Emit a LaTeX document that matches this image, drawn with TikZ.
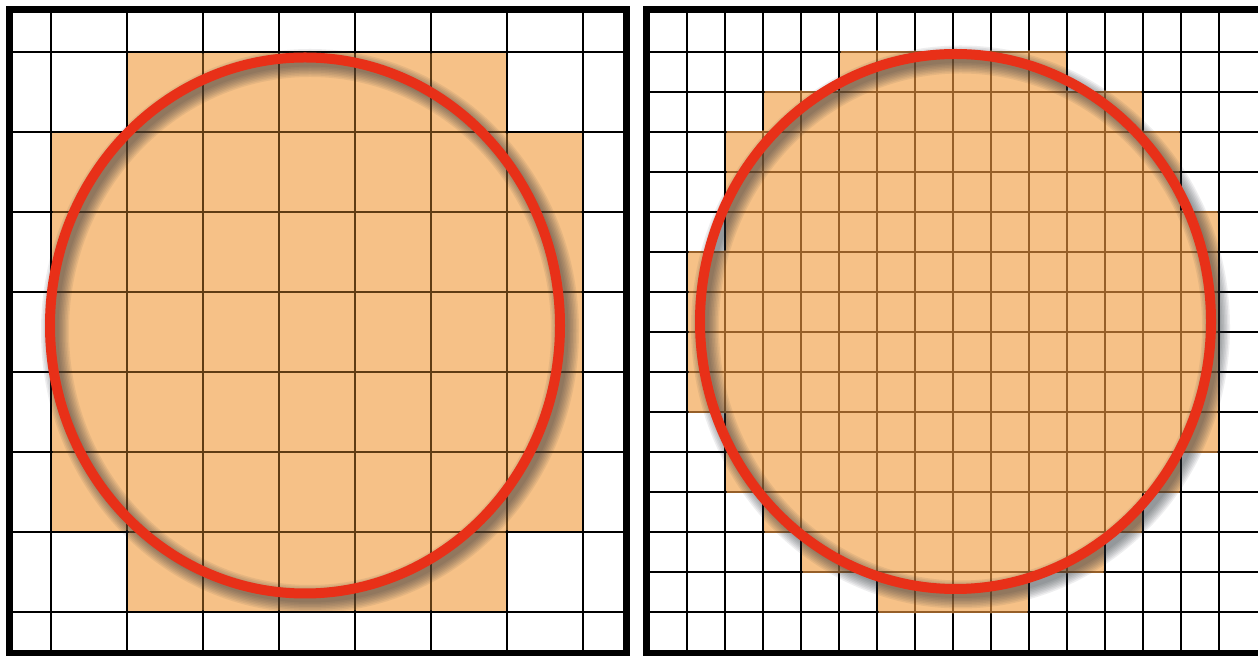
\documentclass[tikz,border=0pt]{standalone}
\definecolor{fillor}{RGB}{246,193,135}
\definecolor{ringred}{RGB}{232,48,24}
\definecolor{brownL}{RGB}{95,60,20}
\definecolor{brownR}{RGB}{150,95,40}
\definecolor{shadowcol}{RGB}{40,45,55}
\begin{document}
\begin{tikzpicture}[x=0.5pt,y=-0.5pt,
  gridline/.style={line width=1pt,black},
  framebox/.style={line width=3.5pt,black},
  ring/.style={line width=5pt,ringred},
  ringshadow/.style={line width=#1,shadowcol}]
\useasboundingbox (0,0) rectangle (1258,656);
\fill[white] (0,0) rectangle (1258,656);

% ---------------- left panel ----------------
\fill[fillor] (51,132) rectangle (583,532);
\fill[fillor] (127,52) rectangle (507,612);
\foreach \k in {0,...,7} {
  \draw[gridline] ({51+76*\k},12) -- ({51+76*\k},651);
  \draw[gridline] (13,{52+80*\k}) -- (623,{52+80*\k});
}
\begin{scope}
  \clip (52.5,133.5) rectangle (581.5,530.5) (128.5,53.5) rectangle (505.5,610.5);
  \foreach \k in {0,...,7} {
    \draw[brownL,line width=1pt] ({51+76*\k},12) -- ({51+76*\k},651);
    \draw[brownL,line width=1pt] (13,{52+80*\k}) -- (623,{52+80*\k});
  }
\end{scope}
\foreach \w in {14pt,12.5pt,11pt,9.5pt,8pt,6.5pt,5pt,3.5pt}
  \draw[ringshadow=\w, opacity=0.08] (310,331) ellipse [x radius=255, y radius=268];
\draw[ring] (305,325.5) ellipse [x radius=255, y radius=268];
\draw[framebox] (9.5,9.5) rectangle (626.5,653.5);

% ---------------- right panel ----------------
\foreach \r/\a/\b in {1/5/10, 2/3/12, 3/2/13, 4/2/13, 5/2/14, 6/1/14, 7/1/14,
                      8/1/14, 9/1/14, 10/2/14, 11/2/13, 12/3/12, 13/4/11, 14/6/9}
  \fill[fillor] ({649+38*\a},{12+40*\r}) rectangle ({649+38*(\b+1)},{52+40*\r});
\foreach \k in {1,...,15} {
  \draw[gridline] ({649+38*\k},12) -- ({649+38*\k},652);
  \draw[gridline] (650,{12+40*\k}) -- (1258,{12+40*\k});
}
\begin{scope}
  \clip \foreach \r/\a/\b in {1/5/10, 2/3/12, 3/2/13, 4/2/13, 5/2/14, 6/1/14, 7/1/14,
                      8/1/14, 9/1/14, 10/2/14, 11/2/13, 12/3/12, 13/4/11, 14/6/9}
    { ({649+38*\a+1.5},{12+40*\r+1.5}) rectangle ({649+38*(\b+1)-1.5},{52+40*\r-1.5})
      ({649+38*\a+1.5},{12+40*\r-1.5}) rectangle ({649+38*(\b+1)-1.5},{52+40*\r+1.5}) };
  \foreach \k in {1,...,15} {
    \draw[brownR,line width=0.8pt] ({649+38*\k},12) -- ({649+38*\k},652);
    \draw[brownR,line width=0.8pt] (650,{12+40*\k}) -- (1258,{12+40*\k});
  }
\end{scope}
\foreach \w in {14pt,12.5pt,11pt,9.5pt,8pt,6.5pt,5pt,3.5pt}
  \draw[ringshadow=\w, opacity=0.08] (960.5,327) ellipse [x radius=255.5, y radius=267.5];
\draw[ring] (955.5,321.5) ellipse [x radius=255.5, y radius=267.5];
\draw[framebox] (646.5,9.5) rectangle (1261.5,653.5);
\end{tikzpicture}
\end{document}
